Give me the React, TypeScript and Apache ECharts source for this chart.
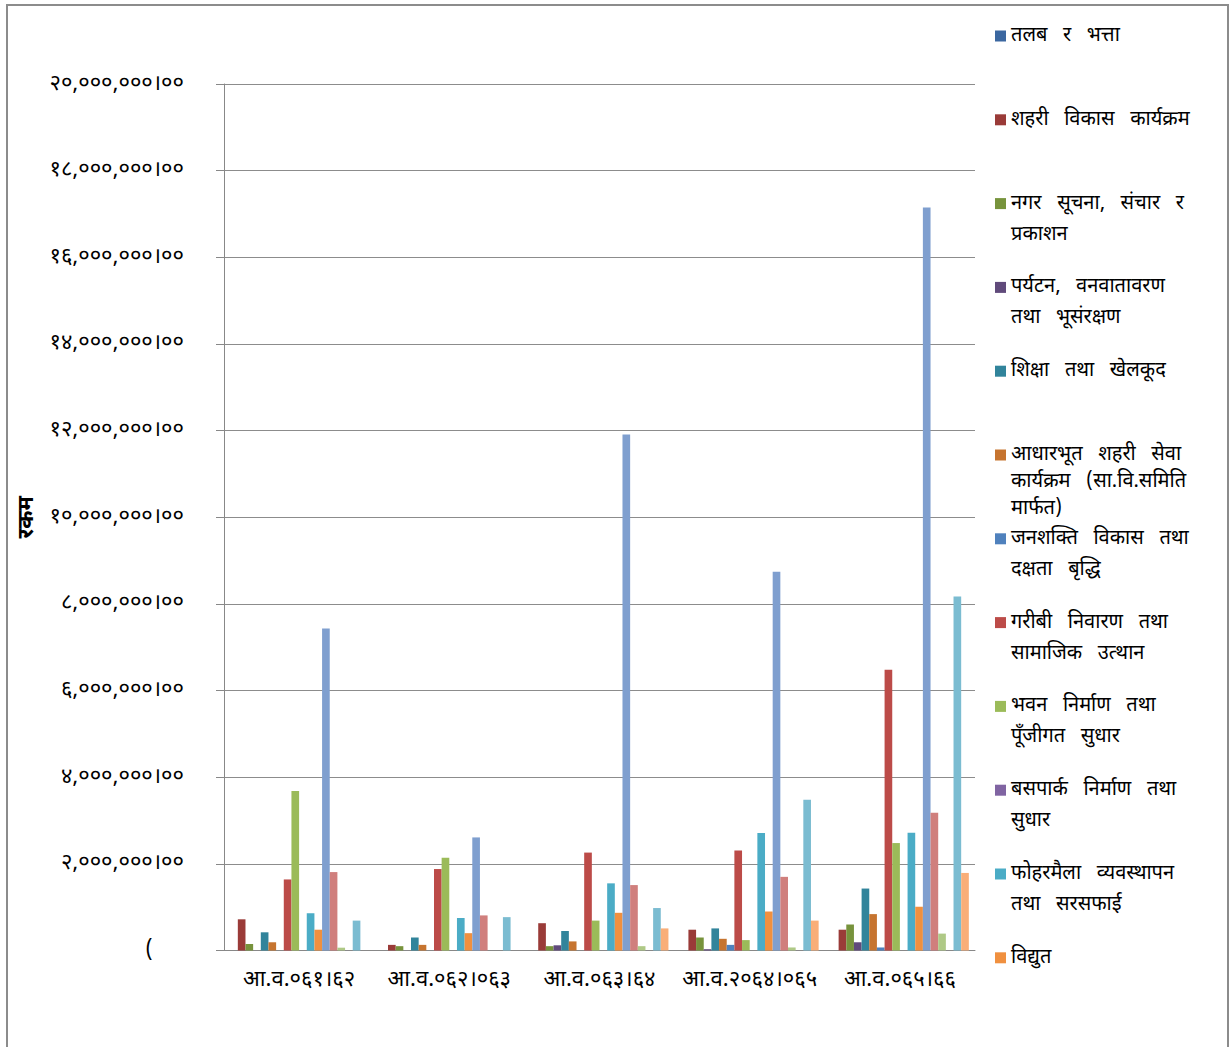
import React, { useEffect, useRef } from "react";
import * as echarts from "echarts";

const categories = ["आ.व.०६१।६२", "आ.व.०६२।०६३", "आ.व.०६३।६४", "आ.व.२०६४।०६५", "आ.व.०६५।६६"];

const seriesNames = [
  "तलब र भत्ता",
  "शहरी विकास कार्यक्रम",
  "नगर सूचना, संचार र प्रकाशन",
  "पर्यटन, वनवातावरण तथा भूसंरक्षण",
  "शिक्षा तथा खेलकूद",
  "आधारभूत शहरी सेवा कार्यक्रम (सा.वि.समिति मार्फत)",
  "जनशक्ति विकास तथा दक्षता बृद्धि",
  "गरीबी निवारण तथा सामाजिक उत्थान",
  "भवन निर्माण तथा पूँजीगत सुधार",
  "बसपार्क निर्माण तथा सुधार",
  "फोहरमैला व्यवस्थापन तथा सरसफाई",
  "विद्युत",
  "श्रृंखला १३",
  "श्रृंखला १४",
  "श्रृंखला १५",
  "श्रृंखला १६",
  "श्रृंखला १७",
  "श्रृंखला १८",
];

// legend text as wrapped in the reference
const legendLines = [
  ["तलब   र   भत्ता"],
  ["शहरी   विकास   कार्यक्रम"],
  ["नगर   सूचना,   संचार   र", "प्रकाशन"],
  ["पर्यटन,   वनवातावरण", "तथा   भूसंरक्षण"],
  ["शिक्षा   तथा   खेलकूद"],
  ["आधारभूत   शहरी   सेवा", "कार्यक्रम   (सा.वि.समिति", "मार्फत)"],
  ["जनशक्ति   विकास   तथा", "दक्षता   बृद्धि"],
  ["गरीबी   निवारण   तथा", "सामाजिक   उत्थान"],
  ["भवन   निर्माण   तथा", "पूँजीगत   सुधार"],
  ["बसपार्क   निर्माण   तथा", "सुधार"],
  ["फोहरमैला   व्यवस्थापन", "तथा   सरसफाई"],
  ["विद्युत"],
];

const s01 = [0, 0, 0, 0, 0];
const s02 = [720000, 130000, 630000, 480000, 480000];
const s03 = [150000, 100000, 100000, 300000, 600000];
const s04 = [0, 0, 120000, 30000, 190000];
const s05 = [420000, 300000, 450000, 510000, 1430000];
const s06 = [190000, 130000, 210000, 270000, 840000];
const s07 = [0, 0, 0, 130000, 70000];
const s08 = [1640000, 1880000, 2260000, 2310000, 6480000];
const s09 = [3680000, 2140000, 690000, 240000, 2480000];
const s10 = [0, 0, 0, 0, 0];
const s11 = [860000, 750000, 1550000, 2710000, 2720000];
const s12 = [480000, 400000, 870000, 900000, 1010000];
const s13 = [7430000, 2610000, 11910000, 8740000, 17150000];
const s14 = [1810000, 810000, 1510000, 1700000, 3180000];
const s15 = [65000, 0, 100000, 70000, 390000];
const s16 = [0, 0, 0, 0, 0];
const s17 = [690000, 770000, 980000, 3480000, 8170000];
const s18 = [0, 0, 510000, 690000, 1790000];

const seriesValues = [s01, s02, s03, s04, s05, s06, s07, s08, s09, s10, s11, s12, s13, s14, s15, s16, s17, s18];

const colors = [
  "#3B67A0", "#9A3B38", "#77933C", "#604A7B", "#31849B", "#C6742F",
  "#4F81BD", "#BC4B48", "#9BBB59", "#8064A2", "#4BACC6", "#F0903F",
  "#7F9FCF", "#D07F7D", "#AFC986", "#9F8BBB", "#7BBCD1", "#F9AE78",
];

const yTicks = [0, 2000000, 4000000, 6000000, 8000000, 10000000, 12000000, 14000000, 16000000, 18000000, 20000000];

const devDigits = "०१२३४५६७८९";
const toDev = (s: string) => s.replace(/[0-9]/g, (d) => devDigits[Number(d)]);

const FONT = "'Noto Sans Devanagari', 'Lohit Devanagari', 'Noto Sans', 'DejaVu Sans', sans-serif";

export default function App() {
  const ref = useRef<HTMLDivElement>(null);
  useEffect(() => {
    if (!ref.current) return;
    const chart = echarts.init(ref.current, null, { renderer: "svg" });
    const legends = legendLines.map((lines, i) => {
      const n = lines.length;
      const L = n >= 3 ? 27 : 31;
      const c = 36 + 83.8 * i;
      const padded = Array(n - 1).fill("").concat(lines);
      return {
        data: [seriesNames[i]],
        orient: "vertical",
        left: 995,
        top: c - ((2 * n - 1) * L) / 2,
        padding: 0,
        itemWidth: 11,
        itemHeight: 11,
        itemGap: 0,
        icon: "rect",
        selectedMode: false,
        formatter: () => padded.join("\n"),
        textStyle: {
          fontSize: 20,
          lineHeight: L,
          color: "#000",
          fontFamily: FONT,
        },
      };
    });
    chart.setOption({
      animation: false,
      backgroundColor: "#fff",
      color: colors,
      textStyle: { fontFamily: FONT },
      graphic: [
        {
          type: "rect",
          shape: { x: 7, y: 5, width: 1221, height: 1080 },
          style: { fill: "none", stroke: "#8c8c8c", lineWidth: 2 },
          silent: true,
        },
      ],
      legend: legends,
      grid: { left: 224, right: 256, top: 84, bottom: 96.5, containLabel: false },
      xAxis: {
        type: "category",
        data: categories,
        axisLine: { show: true, lineStyle: { color: "#888", width: 1 } },
        axisTick: { show: false },
        axisLabel: { fontSize: 22, color: "#000", margin: 19, interval: 0, fontFamily: FONT },
        splitLine: { show: false },
      },
      yAxis: {
        type: "value",
        min: 0,
        max: 20000000,
        interval: 2000000,
        name: "रकम",
        nameLocation: "middle",
        nameRotate: 90,
        nameGap: 183,
        nameTextStyle: { fontSize: 22, fontWeight: "bold", color: "#000", fontFamily: FONT },
        axisLine: { show: true, lineStyle: { color: "#888", width: 1 } },
        axisTick: { show: true, length: 8, lineStyle: { color: "#888" } },
        splitLine: { show: true, lineStyle: { color: "#8c8c8c", width: 1 } },
        axisLabel: {
          fontSize: 22,
          color: "#000",
          margin: 40,
          fontFamily: FONT,
          formatter: (v: number) => {
            if (v === yTicks[0]) return "{z|(}";
            return toDev(v.toLocaleString("en-US")) + "।" + toDev("00");
          },
          rich: { z: { padding: [0, 31, 0, 0], fontSize: 22, color: "#000" } },
        },
      },
      series: seriesValues.map((vals, i) => ({
        name: seriesNames[i],
        type: "bar",
        data: vals,
        barGap: "0%",
        barCategoryGap: "8.2%",
        itemStyle: { color: colors[i] },
      })),
    });
    return () => chart.dispose();
  }, []);
  return (
    <div
      ref={ref}
      style={{ position: "absolute", left: 0, top: 0, width: 1231, height: 1047 }}
    />
  );
}
